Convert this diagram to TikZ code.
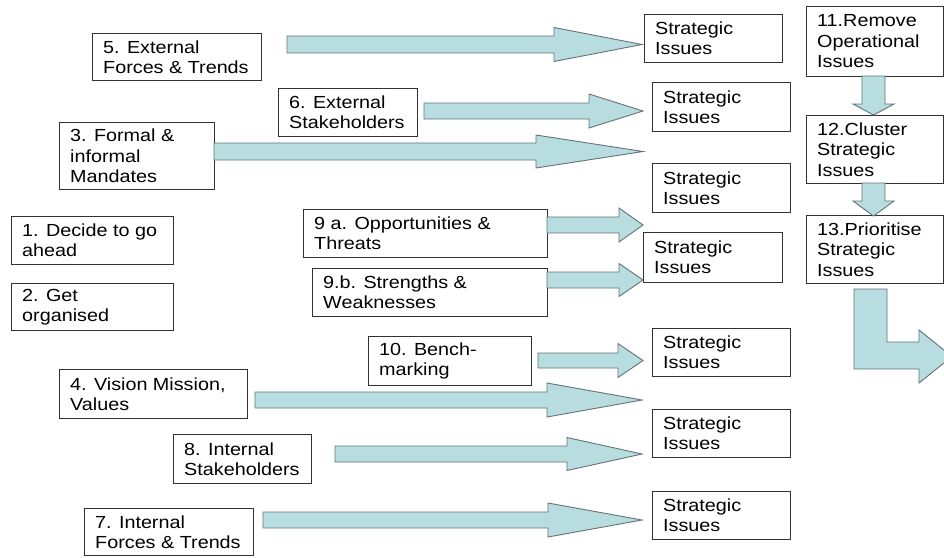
\documentclass[tikz,border=0pt]{standalone}
\usepackage{fontspec}
\setmainfont[FakeStretch=1.13]{Liberation Sans}
\definecolor{arrowfill}{RGB}{184,221,224}
\definecolor{arrowline}{RGB}{100,115,118}
\definecolor{boxline}{RGB}{50,50,50}
\tikzset{
  boxshape/.style={draw=boxline, line width=0.9pt, fill=white, inner sep=0pt},
  boxtext/.style={anchor=west, align=left, inner sep=0pt, font=\fontsize{17.5}{20.4}\selectfont},
  blockarrow/.style={draw=arrowline, fill=arrowfill, line width=0.9pt, line join=miter}
}
% box: name, left, top, right, bottom, text
\newcommand\mybox[6]{%
  \node[boxshape, minimum width=#4-#2, minimum height=#5-#3, anchor=north west] (#1) at (#2,#3) {};
  \node[boxtext] (#1-t) at ([xshift=11pt]#1.west) {#6};
}
% horizontal block arrow: x0, yc, xbase, xtip, shaft half, head half
\newcommand\harrow[6]{%
  \draw[blockarrow] (#1,#2-#5) -- (#3,#2-#5) -- (#3,#2-#6) -- (#4,#2) -- (#3,#2+#6) -- (#3,#2+#5) -- (#1,#2+#5) -- cycle;
}
% vertical block arrow: xc, y0, ybase, ytip, shaft half, head half
\newcommand\varrow[6]{%
  \draw[blockarrow] (#1-#5,#2) -- (#1-#5,#3) -- (#1-#6,#3) -- (#1,#4) -- (#1+#6,#3) -- (#1+#5,#3) -- (#1+#5,#2) -- cycle;
}
\begin{document}
\begin{tikzpicture}[x=1pt,y=-1pt]
\useasboundingbox (0,0) rectangle (944,557);
% left side boxes
\mybox{b5}{92}{33}{261}{80}{5. External\\Forces \& Trends}
\mybox{b6}{278}{88}{417}{136}{6. External\\Stakeholders}
\mybox{b3}{59}{122}{214}{189}{3. Formal \&\\informal\\Mandates}
\mybox{b1}{11}{216}{173}{264}{1. Decide to go\\ahead}
\mybox{b2}{11}{283}{173}{330}{2. Get\\organised}
\mybox{b9a}{303}{209}{547}{257}{9 a. Opportunities \&\\Threats}
\mybox{b9b}{312}{268}{547}{316}{9.b. Strengths \&\\Weaknesses}
\mybox{b10}{368}{336}{531}{385}{10. Bench-\\marking}
\mybox{b4}{59}{369}{247}{418}{4. Vision Mission,\\Values}
\mybox{b8}{173}{434}{311}{483}{8. Internal\\Stakeholders}
\mybox{b7}{84}{508}{253}{555}{7. Internal\\Forces \& Trends}
% strategic issues boxes
\mybox{s1}{644}{14}{782}{62}{Strategic\\Issues}
\mybox{s2}{652}{82}{790}{131}{Strategic\\Issues}
\mybox{s3}{652}{163}{790}{212}{Strategic\\Issues}
\mybox{s4}{643}{232}{782}{282}{Strategic\\Issues}
\mybox{s5}{652}{328}{790}{376}{Strategic\\Issues}
\mybox{s6}{652}{409}{790}{457}{Strategic\\Issues}
\mybox{s7}{652}{491}{790}{539}{Strategic\\Issues}
% right column
\mybox{r11}{806}{6}{943}{76}{11.Remove\\Operational\\Issues}
\mybox{r12}{806}{115}{943}{183}{12.Cluster\\Strategic\\Issues}
\mybox{r13}{806}{215}{943}{283}{13.Prioritise\\Strategic\\Issues}
% horizontal arrows
\harrow{287}{44.5}{554}{642}{8.5}{17}
\harrow{424}{111}{589}{643}{8}{17}
\harrow{214}{151.5}{536}{643}{8.5}{16.5}
\harrow{547}{225}{619}{643}{8}{17}
\harrow{547}{280}{619}{643}{8}{16.5}
\harrow{538}{360.5}{618}{643}{7.5}{17}
\harrow{255}{400}{547}{642}{8}{17}
\harrow{335}{454}{567}{642}{8}{16.5}
\harrow{263}{520}{548}{642}{8}{17}
% vertical arrows
\varrow{873.5}{76}{104}{115}{11.5}{20.5}
\varrow{873.5}{183}{201}{216}{11.5}{20.5}
% bent arrow
\draw[blockarrow] (854,289) -- (887,289) -- (887,342) -- (919,342) -- (919,330)
  -- (952,356.5) -- (919,383) -- (919,369) -- (854,369) -- cycle;
\end{tikzpicture}
\end{document}
